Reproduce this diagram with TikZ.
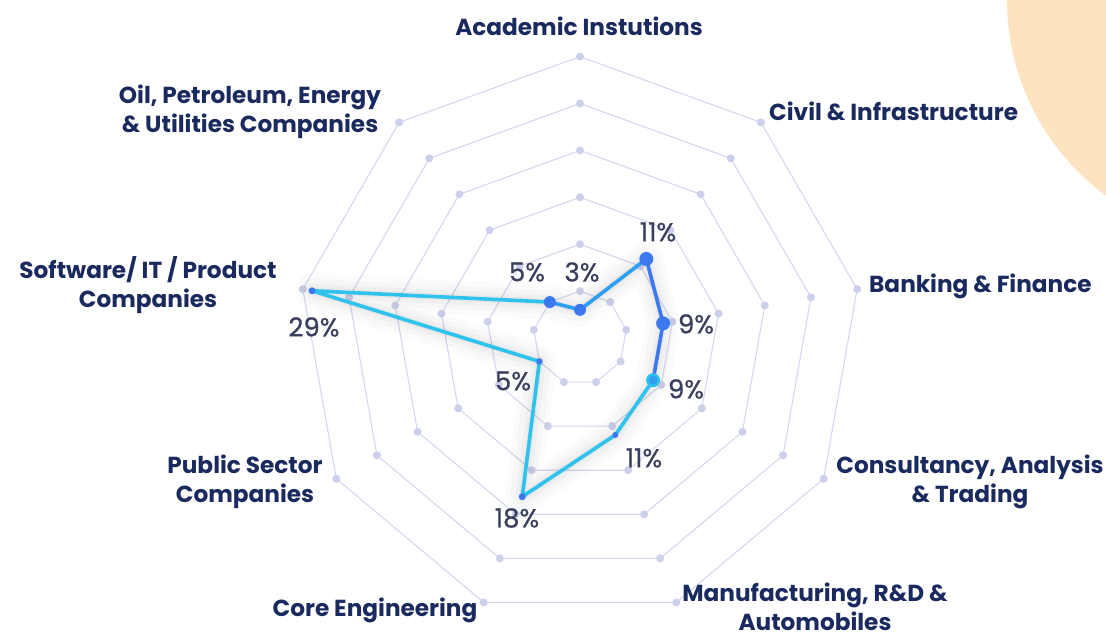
\documentclass[tikz,border=0pt]{standalone}
\usepackage{fontspec}
\setmainfont{Poppins}
\newfontfamily\pctfont{Poppins}[FakeBold=0.7]
\usetikzlibrary{calc}
\definecolor{navy}{HTML}{1B2A5E}
\definecolor{pctgray}{HTML}{3A3F5E}
\definecolor{ringc}{HTML}{D5D8EE}
\definecolor{ringdotc}{HTML}{CDD0EA}
\definecolor{cyanl}{HTML}{2EC2EC}
\definecolor{bluel}{HTML}{3C78F0}
\definecolor{midl}{HTML}{2E9EF0}
\definecolor{peach}{HTML}{FDE3BF}
\begin{document}
\begin{tikzpicture}[x=1pt,y=-1pt,
 axlabel/.style={font=\fontsize{23.2}{29}\selectfont\bfseries, text=navy, align=center, inner sep=0},
 pct/.style={font=\pctfont\fontsize{26}{28}\selectfont, text=pctgray, inner sep=0},
 ringline/.style={draw=ringc, line width=1.1pt},
 ringdot/.style={circle, fill=ringdotc, minimum size=8pt, inner sep=0},
 dataline/.style={line width=3.6pt, line cap=round, line join=round},
 datamark/.style={circle, fill=bluel, inner sep=0},
 shadowline/.style={draw=black, line join=round}]
\useasboundingbox (0,0) rectangle (1106,637);
\fill[white] (0,0) rectangle (1106,637);
\begin{scope}
\clip (0,0) rectangle (1106,637);
\fill[peach] (1250,0) circle[radius=243];
\end{scope}
\coordinate (C) at (580,338);
% ring vertices
\foreach \k in {1,...,6}{
  \foreach \i in {0,...,8}{
    \coordinate (v\k-\i) at ($(C)+({-90+40*\i}:{46.9*\k})$);
  }
}
% rings
\foreach \k in {1,...,6}{
  \draw[ringline] (v\k-0) \foreach \i in {1,...,8}{ -- (v\k-\i)} -- cycle;
}
\foreach \k in {1,...,6}{
  \foreach \i in {0,...,8}{
    \node[ringdot] (d\k-\i) at (v\k-\i) {};
  }
}
% data points
\coordinate (p0) at ($(C)+(-90:28.2)$);
\coordinate (p1) at ($(C)+(-50:103.2)$);
\coordinate (p2) at ($(C)+(-10:84.4)$);
\coordinate (p3) at ($(C)+(30:84.4)$);
\coordinate (p4) at ($(C)+(70:103.2)$);
\coordinate (p5) at ($(C)+(110:168.9)$);
\coordinate (p6) at ($(C)+(150:46.9)$);
\coordinate (p7) at ($(C)+(190:272.1)$);
\coordinate (p8) at ($(C)+(230:46.9)$);
% soft shadow
\begin{scope}[yshift=-4pt]
\draw[shadowline, opacity=0.015, line width=34pt] (p0) -- (p1) -- (p2) -- (p3) -- (p4) -- (p5) -- (p6) -- (p7) -- (p8) -- cycle;
\draw[shadowline, opacity=0.018, line width=24pt] (p0) -- (p1) -- (p2) -- (p3) -- (p4) -- (p5) -- (p6) -- (p7) -- (p8) -- cycle;
\draw[shadowline, opacity=0.022, line width=14pt] (p0) -- (p1) -- (p2) -- (p3) -- (p4) -- (p5) -- (p6) -- (p7) -- (p8) -- cycle;
\draw[shadowline, opacity=0.03, line width=7pt] (p0) -- (p1) -- (p2) -- (p3) -- (p4) -- (p5) -- (p6) -- (p7) -- (p8) -- cycle;
\end{scope}
% data line
\draw[dataline, draw=midl] (p0) -- (p1);
\draw[dataline, draw=bluel] (p1) -- (p2) -- (p3);
\draw[dataline, draw=cyanl] (p3) -- (p4) -- (p5) -- (p6) -- (p7) -- (p8);
\draw[dataline, draw=midl] (p8) -- (p0);
% markers
\node[datamark, minimum size=12pt] (m0) at (p0) {};
\node[datamark, minimum size=14pt] (m1) at (p1) {};
\node[datamark, minimum size=14pt] (m2) at (p2) {};
\node[datamark, fill=cyanl, minimum size=14pt] (m3) at (p3) {};
\node[datamark, fill=midl, minimum size=9pt] (m3b) at (p3) {};
\node[datamark, minimum size=6pt] (m4) at (p4) {};
\node[datamark, minimum size=7pt] (m5) at (p5) {};
\node[datamark, minimum size=6pt] (m6) at (p6) {};
\node[datamark, minimum size=7pt] (m7) at (p7) {};
\node[datamark, minimum size=12pt] (m8) at (p8) {};
% percentage labels
\node[pct] (l0) at (582,272) {3\%};
\node[pct] (l1) at (658,232) {11\%};
\node[pct] (l2) at (696,324) {9\%};
\node[pct] (l3) at (686,389) {9\%};
\node[pct] (l4) at (644,458) {11\%};
\node[pct] (l5) at (517,518) {18\%};
\node[pct] (l6) at (513,381) {5\%};
\node[pct] (l7) at (314,327) {29\%};
\node[pct] (l8) at (527,272) {5\%};
% axis labels
\node[axlabel] (a0) at (579,26) {Academic Instutions};
\node[axlabel, anchor=west] (a1) at (769,111) {Civil \& Infrastructure};
\node[axlabel, anchor=west] (a2) at (869,286) {Banking \& Finance};
\node[axlabel] (a3) at (970,482) {Consultancy, Analysis\\\& Trading};
\node[axlabel] (a4) at (815,607) {Manufacturing, R\&D \&\\Automobiles};
\node[axlabel] (a5) at (375,610) {Core Engineering};
\node[axlabel] (a6) at (245,482) {Public Sector\\Companies};
\node[axlabel] (a7) at (148,285) {Software/ IT / Product\\Companies};
\node[axlabel] (a8) at (250,112) {Oil, Petroleum, Energy\\\& Utilities Companies};
\end{tikzpicture}
\end{document}
